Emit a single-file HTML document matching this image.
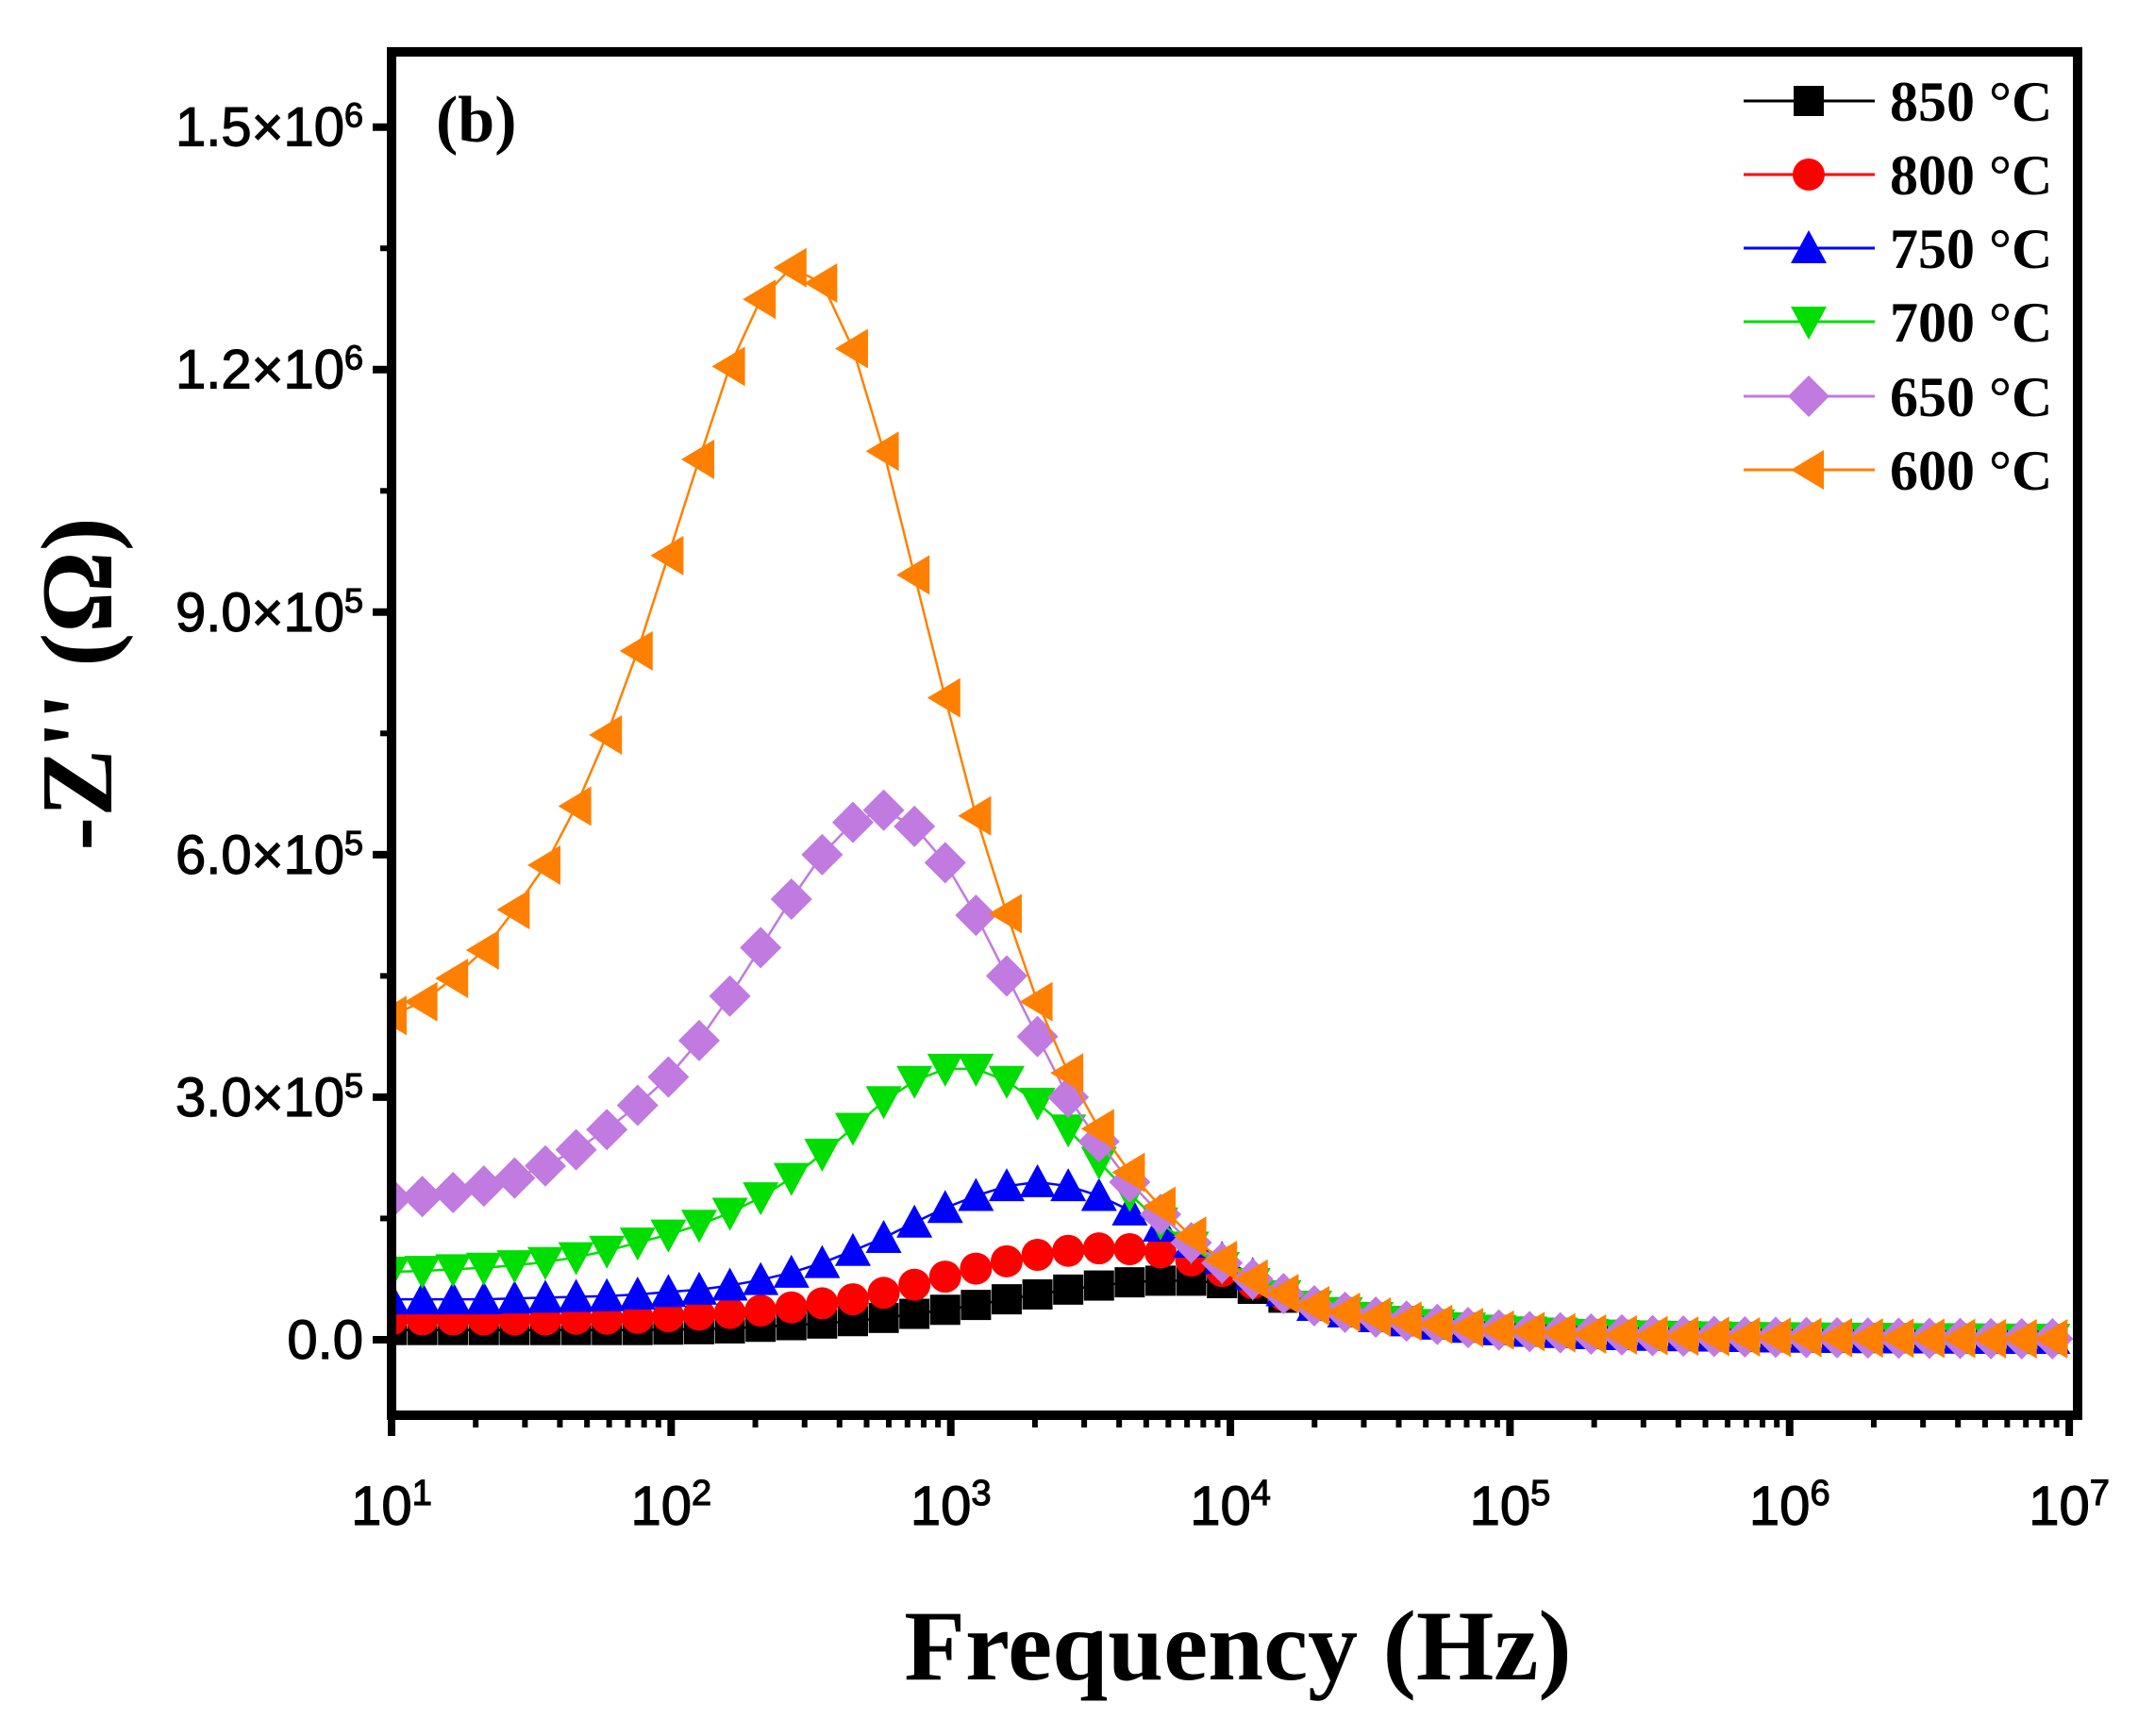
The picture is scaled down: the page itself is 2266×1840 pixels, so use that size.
<!DOCTYPE html>
<html><head><meta charset="utf-8"><style>
html,body{margin:0;padding:0;background:#fff;}
svg{display:block;}
</style></head><body>
<svg id="chart" width="2266" height="1840" viewBox="0 0 2266 1840" xmlns="http://www.w3.org/2000/svg"></svg>
<script>
// ---- data (values in units of 1e5 ohm), log10 frequency from 1.0 step 0.11 ----
const logStart = 1.0;
const logStep = 0.11;
const tail = [0.42,0.34,0.28,0.23,0.19,0.15,0.12,0.10,0.085,0.07,0.06,0.05,0.045,0.04,0.035,0.03,0.027,0.024,0.021,0.019,0.017,0.015,0.013,0.012,0.011];
const s850 = [0.12,0.12,0.12,0.12,0.12,0.12,0.12,0.12,0.12,0.125,0.13,0.14,0.16,0.18,0.2,0.23,0.27,0.32,0.37,0.43,0.5,0.56,0.62,0.67,0.71,0.73,0.73,0.7,0.63,0.52].concat(tail);
const s800 = [0.25,0.25,0.25,0.25,0.25,0.25,0.26,0.26,0.27,0.29,0.31,0.33,0.36,0.4,0.45,0.5,0.58,0.68,0.78,0.88,0.97,1.05,1.1,1.13,1.12,1.08,0.98,0.85,0.7,0.55].concat(tail);
const s750 = [0.5,0.5,0.5,0.5,0.51,0.52,0.53,0.54,0.56,0.59,0.62,0.67,0.74,0.83,0.95,1.1,1.26,1.45,1.63,1.78,1.9,1.95,1.9,1.78,1.6,1.4,1.2,1.0,0.8,0.6].concat(tail);
const s700 = [0.84,0.85,0.87,0.89,0.92,0.96,1.02,1.1,1.2,1.3,1.42,1.57,1.76,2.0,2.3,2.62,2.95,3.2,3.35,3.35,3.2,2.93,2.6,2.2,1.8,1.45,1.15,0.9,0.7,0.55].concat(tail);
const s650 = [1.75,1.77,1.82,1.9,2.0,2.15,2.35,2.6,2.9,3.25,3.7,4.25,4.85,5.45,6.0,6.4,6.55,6.35,5.9,5.25,4.5,3.75,3.0,2.45,1.95,1.55,1.2,0.95,0.75,0.57].concat(tail);
const s600 = [4.01,4.18,4.47,4.82,5.32,5.87,6.6,7.48,8.52,9.7,10.89,12.04,12.87,13.26,13.07,12.26,10.99,9.46,7.94,6.48,5.27,4.18,3.3,2.61,2.07,1.65,1.28,0.98,0.75,0.57].concat(tail);
const seriesLabels = ["850 °C","800 °C","750 °C","700 °C","650 °C","600 °C"];
const yTickValues = [0,3,6,9,12,15];
const yTickLabels = ["0.0","3.0×10<tspan baseline-shift='super' font-size='36'>5</tspan>","6.0×10<tspan baseline-shift='super' font-size='36'>5</tspan>","9.0×10<tspan baseline-shift='super' font-size='36'>5</tspan>","1.2×10<tspan baseline-shift='super' font-size='36'>6</tspan>","1.5×10<tspan baseline-shift='super' font-size='36'>6</tspan>"];
const xTickExps = [1,2,3,4,5,6,7];

// ---- layout ----
const L=415,R=2202,T=55,B=1500;
const xMinLog=1, xMaxLog=7.03, yMin=-0.934, yMax=15.93;
const X = lg => L + (lg - xMinLog)/(xMaxLog - xMinLog)*(R-L);
const Y = v => B - (v - yMin)/(yMax - yMin)*(B-T);
const svg=document.getElementById('chart');
const NS='http://www.w3.org/2000/svg';
function mk(tag,attrs,parent){const e=document.createElementNS(NS,tag);for(const k in attrs)e.setAttribute(k,attrs[k]);(parent||svg).appendChild(e);return e;}

const styles=[
 {c:'#000000',m:'square'},{c:'#ff0000',m:'circle'},{c:'#0000ff',m:'up'},
 {c:'#00dd00',m:'down'},{c:'#c07ae0',m:'diamond'},{c:'#ff8000',m:'left'}];
const allSeries=[s850,s800,s750,s700,s650,s600];

function marker(g,type,x,y,c){
  const s=16;let e;
  if(type==='square') e=mk('rect',{x:x-s,y:y-s,width:2*s,height:2*s,fill:c},g);
  else if(type==='circle') e=mk('circle',{cx:x,cy:y,r:s+1,fill:c},g);
  else if(type==='up') e=mk('polygon',{points:`${x},${y-s-3} ${x+s+3},${y+s} ${x-s-3},${y+s}`,fill:c},g);
  else if(type==='down') e=mk('polygon',{points:`${x},${y+s+3} ${x+s+3},${y-s} ${x-s-3},${y-s}`,fill:c},g);
  else if(type==='diamond') e=mk('polygon',{points:`${x},${y-s-6} ${x+s+6},${y} ${x},${y+s+6} ${x-s-6},${y}`,fill:c},g);
  else e=mk('polygon',{points:`${x-s-3},${y} ${x+s},${y-s-5} ${x+s},${y+s+5}`,fill:c},g);
  return e;
}

const defs=mk('defs',{});
const cp=mk('clipPath',{id:'plotclip'},defs);
mk('rect',{x:L,y:T,width:R-L,height:B-T},cp);

allSeries.forEach((data,si)=>{
  const g=mk('g',{'clip-path':'url(#plotclip)'});
  
  
  const pts=data.map((v,i)=>`${X(logStart+i*logStep)},${Y(v)}`).join(' ');
  const pl=mk('polyline',{points:pts,fill:'none',stroke:styles[si].c,'stroke-width':2.5},g);
  
  
  data.forEach((v,i)=>{
    const m=marker(g,styles[si].m,X(logStart+i*logStep),Y(v),styles[si].c);
    
    
  });
});

const frame=mk('rect',{x:L,y:T,width:R-L,height:B-T,fill:'none',stroke:'#000','stroke-width':10});



yTickValues.forEach((v,i)=>{
  const y=Y(v);
  const t=mk('line',{x1:L-20,y1:y,x2:L,y2:y,stroke:'#000','stroke-width':8});
  
  
  const lb=mk('text',{x:L-30,y:y+20,'text-anchor':'end','font-family':'Liberation Sans, sans-serif','font-size':58,'stroke':'#000','stroke-width':1.2});
  lb.innerHTML=yTickLabels[i];
  
  
  if(i<yTickValues.length-1){
    const ym=Y(v+1.5);
    const mt=mk('line',{x1:L-12,y1:ym,x2:L,y2:ym,stroke:'#000','stroke-width':6});
    
    
  }
});
xTickExps.forEach((e)=>{
  const x=X(e);
  const t=mk('line',{x1:x,y1:B,x2:x,y2:B+22,stroke:'#000','stroke-width':8});
  
  
  const lb=mk('text',{x:x,y:1616,'text-anchor':'middle','font-family':'Liberation Sans, sans-serif','font-size':58,'stroke':'#000','stroke-width':1.2});
  lb.innerHTML="10<tspan baseline-shift='super' font-size='38'>"+e+"</tspan>";
  
  
  if(e<7){for(let k=2;k<=9;k++){
    const xm=X(e+Math.log10(k));
    const mt=mk('line',{x1:xm,y1:B,x2:xm,y2:B+13,stroke:'#000','stroke-width':6});
    
    
  }}
});

const xt=mk('text',{x:1312,y:1780,'text-anchor':'middle','font-family':'Liberation Serif, serif','font-weight':'bold','font-size':106});
xt.textContent='Frequency (Hz)';


const yt=mk('text',{x:0,y:0,'text-anchor':'middle','font-family':'Liberation Serif, serif','font-weight':'bold','font-size':108,transform:'translate(118,725) rotate(-90)'});
yt.textContent="-Z'' (Ω)";


const pb=mk('text',{x:462,y:150,'font-family':'Liberation Serif, serif','font-weight':'bold','font-size':70});
pb.textContent='(b)';



const legendY=[107,185,263,341,420,498];
seriesLabels.forEach((lab,i)=>{
  const g=mk('g',{});
  
  
  mk('line',{x1:1848,y1:legendY[i],x2:1987,y2:legendY[i],stroke:styles[i].c,'stroke-width':3},g);
  marker(g,styles[i].m,1917,legendY[i],styles[i].c);
  const tx=mk('text',{x:2003,y:legendY[i]+21,'font-family':'Liberation Serif, serif','font-weight':'bold','font-size':60},g);
  tx.textContent=lab;
});
</script>
</body></html>
